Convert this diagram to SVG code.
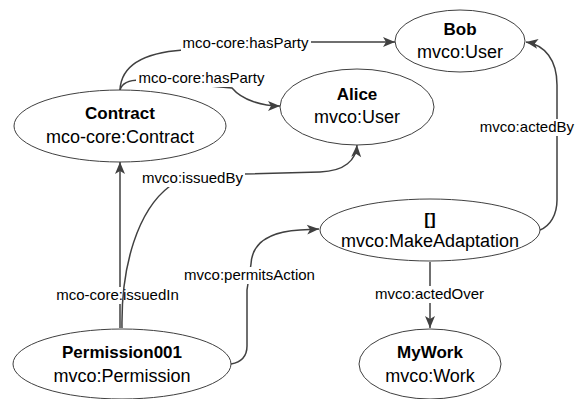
<svg xmlns="http://www.w3.org/2000/svg" width="576" height="399" viewBox="0 0 576 399">
<style>
.node ellipse{fill:#fff;stroke:#404040;stroke-width:1}
.t1{font-family:"Liberation Sans",Arial,sans-serif;font-size:17px;font-weight:bold;fill:#000;text-anchor:middle}
.t2{font-family:"Liberation Sans",Arial,sans-serif;font-size:18px;fill:#000;text-anchor:middle}
.edge{fill:none;stroke:#404040;stroke-width:1.5;marker-end:url(#arr)}
.lbl{font-family:"Liberation Sans",Arial,sans-serif;font-size:15px;fill:#000;text-anchor:middle}
.bg{fill:#fff}
</style>
<defs>
<marker id="arr" markerUnits="userSpaceOnUse" markerWidth="14" markerHeight="12" refX="13" refY="6" orient="auto">
<path d="M1,1 L13,6 L1,11 L4,6 z" fill="#404040"/>
</marker>
</defs>
<rect width="576" height="399" fill="#fff"/>
<g id="connectors">
<path class="edge" d="M120,90 C121,67 140,53 183,50 L308,42 L395,42"/>
<rect class="bg" x="181" y="35" width="130" height="17"/>
<text class="lbl" x="245.5" y="48">mco-core:hasParty</text>
<path class="edge" d="M120,90 C122,83 128,80 140,80 L232,88 C242,100 262,106 280,106"/>
<rect class="bg" x="136" y="70" width="132" height="17"/>
<text class="lbl" x="201.5" y="83">mco-core:hasParty</text>
<path class="edge" d="M120,328 L120,162"/>
<rect class="bg" x="54" y="287" width="128" height="17"/>
<text class="lbl" x="117.5" y="300">mco-core:issuedIn</text>
<path class="edge" d="M122,328 C121,265 138,210 170,186 L243,174 L320,172 C345,171 356,160 357,145"/>
<rect class="bg" x="141" y="170" width="104" height="17"/>
<text class="lbl" x="192.5" y="183">mvco:issuedBy</text>
<path class="edge" d="M231,364 C242,362 247,356 247,346 L247,290 L251,264 C252,245 265,232 300,230 L319,229"/>
<rect class="bg" x="180" y="267" width="139" height="17"/>
<text class="lbl" x="249.5" y="280">mvco:permitsAction</text>
<path class="edge" d="M430,262 L430,328"/>
<rect class="bg" x="373" y="286" width="114" height="17"/>
<text class="lbl" x="429.5" y="299">mvco:actedOver</text>
<path class="edge" d="M540,230 C550,226 557,215 557,200 L557,85 C557,60 545,45 526,42"/>
<rect class="bg" x="478" y="119" width="98" height="17"/>
<text class="lbl" x="574" y="132" style="text-anchor:end">mvco:actedBy</text>
</g>
<g id="bob" class="node">
<ellipse cx="460" cy="41" rx="65" ry="31"/>
<text class="t1" x="460" y="35">Bob</text>
<text class="t2" x="460" y="58">mvco:User</text>
</g>
<g id="alice" class="node">
<ellipse cx="357" cy="107" rx="77" ry="38"/>
<text class="t1" x="357" y="100">Alice</text>
<text class="t2" x="357" y="123">mvco:User</text>
</g>
<g id="contract" class="node">
<ellipse cx="120" cy="126" rx="106" ry="36"/>
<text class="t1" x="120" y="119">Contract</text>
<text class="t2" x="120" y="143">mco-core:Contract</text>
</g>
<g id="makeadaptation" class="node">
<ellipse cx="430" cy="230" rx="110" ry="31"/>
<text class="t1" x="430" y="225">[]</text>
<text class="t2" x="430" y="247">mvco:MakeAdaptation</text>
</g>
<g id="mywork" class="node">
<ellipse cx="430" cy="364" rx="71" ry="35"/>
<text class="t1" x="430" y="358">MyWork</text>
<text class="t2" x="430" y="382">mvco:Work</text>
</g>
<g id="permission001" class="node">
<ellipse cx="122" cy="364" rx="109" ry="35"/>
<text class="t1" x="122" y="358">Permission001</text>
<text class="t2" x="122" y="382">mvco:Permission</text>
</g>
</svg>
